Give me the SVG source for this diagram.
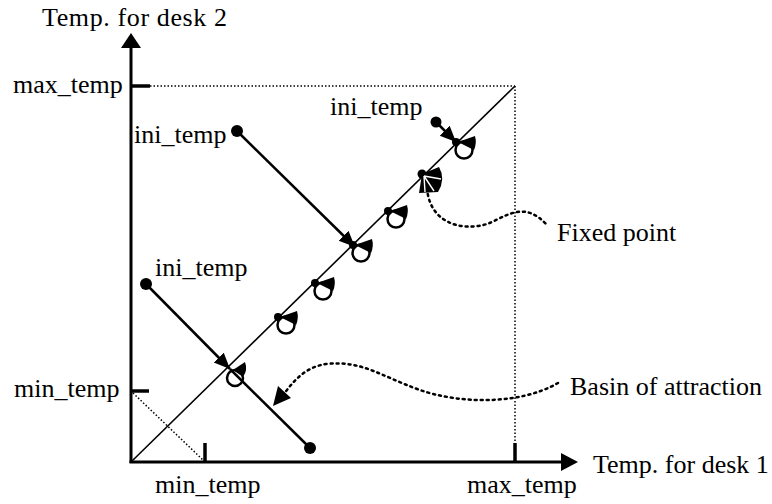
<svg xmlns="http://www.w3.org/2000/svg" xmlns:xlink="http://www.w3.org/1999/xlink" width="772" height="504" viewBox="0 0 772 504">
<style>
text{font-family:"Liberation Serif","Times New Roman",serif;font-size:26px;fill:#000}
.axis{stroke:#000;stroke-width:3;fill:none}
.tick{stroke:#000;stroke-width:3.5;fill:none}
.guide{stroke:#000;stroke-width:1.5;stroke-dasharray:1.5 2;fill:none}
.diag{stroke:#000;stroke-width:1.6;fill:none}
.traj{stroke:#000;stroke-width:2.5;fill:none}
.callout{stroke:#000;stroke-width:2.5;stroke-dasharray:2 4;stroke-linecap:round;fill:none}
</style>
<defs>
<marker id="ah" markerUnits="userSpaceOnUse" markerWidth="20" markerHeight="16" refX="16" refY="7" orient="auto">
<path d="M0,0 L16,7 L0,14 Z" fill="#000"/>
</marker>
<g id="loop">
<circle cx="0" cy="0" r="4" fill="#000"/>
<circle cx="8" cy="8" r="8.5" fill="none" stroke="#000" stroke-width="2.5"/>
<path d="M2,0 L19,-6 Q21,1 18,8 Z" fill="#000"/>
</g>
</defs>

<g id="axes">
<line class="axis" x1="131" y1="463" x2="131" y2="46"/>
<path d="M131,33 L121,48 L141,48 Z" fill="#000"/>
<line class="axis" x1="129.5" y1="462" x2="562" y2="462"/>
<path d="M578,462 L561,453 L561,471 Z" fill="#000"/>
<line class="tick" x1="131" y1="86" x2="150" y2="86"/>
<line class="tick" x1="131" y1="391" x2="149" y2="391"/>
<line class="tick" x1="205" y1="443" x2="205" y2="462"/>
<line class="tick" x1="515" y1="443" x2="515" y2="462"/>
<line class="guide" x1="150" y1="86" x2="515" y2="86"/>
<line class="guide" x1="515" y1="86" x2="515" y2="443"/>
<line class="guide" x1="133" y1="393" x2="203" y2="460"/>
<line class="diag" x1="131" y1="462" x2="515" y2="86"/>
</g>

<g id="labels">
<text x="42" y="26" textLength="185">Temp. for desk 2</text>
<text x="13" y="93">max_temp</text>
<text x="14" y="397">min_temp</text>
<text x="155" y="493">min_temp</text>
<text x="467" y="493">max_temp</text>
<text x="593" y="473">Temp. for desk 1</text>
<text x="134" y="143">ini_temp</text>
<text x="330" y="115">ini_temp</text>
<text x="155" y="276">ini_temp</text>
<text x="557" y="241">Fixed point</text>
<text x="570" y="395">Basin of attraction</text>
</g>

<g id="connectors">
<line class="traj" x1="237" y1="131" x2="355" y2="247" marker-end="url(#ah)"/>
<line class="traj" x1="436" y1="122" x2="456" y2="142" marker-end="url(#ah)"/>
<line class="traj" x1="146" y1="284" x2="230" y2="369" marker-end="url(#ah)"/>
<line class="traj" x1="230" y1="369" x2="310" y2="448"/>
<path class="callout" d="M427,188 C430,228 470,232 492,222 C512,212 527,204 546,224"/>
<path class="callout" d="M558,383 C520,405 460,404 420,390 C380,376 362,360 326,364 C306,367 294,380 284,394"/>
<path d="M273,406 L278,386 L291,398 Z" fill="#000"/>
</g>

<g id="points">
<circle cx="237" cy="131" r="6" fill="#000"/>
<circle cx="436" cy="122" r="5.5" fill="#000"/>
<circle cx="146" cy="284" r="6" fill="#000"/>
<circle cx="310" cy="448" r="6" fill="#000"/>
</g>

<g id="fixed-points">
<use xlink:href="#loop" x="456" y="142"/>
<use xlink:href="#loop" x="388" y="211"/>
<use xlink:href="#loop" x="353" y="245"/>
<use xlink:href="#loop" x="315" y="283"/>
<use xlink:href="#loop" x="278" y="317"/>
<g transform="translate(229,368)">
<circle cx="6" cy="10" r="8" fill="none" stroke="#000" stroke-width="2.5"/>
<path d="M4,2 L16,-6 Q19,2 14,9 Z" fill="#000"/>
</g>
<g id="fixed-point" transform="translate(422,174)">
<circle cx="0" cy="0" r="4.5" fill="#000"/>
<path d="M0,0 L17,-7 Q24,5 16,18 L-3,19 Z" fill="#000"/>
<path d="M2,2 L19,5 M2,2 L12,17 M2,2 L3,18" stroke="#fff" stroke-width="1.4"/>
</g>
</g>
</svg>
